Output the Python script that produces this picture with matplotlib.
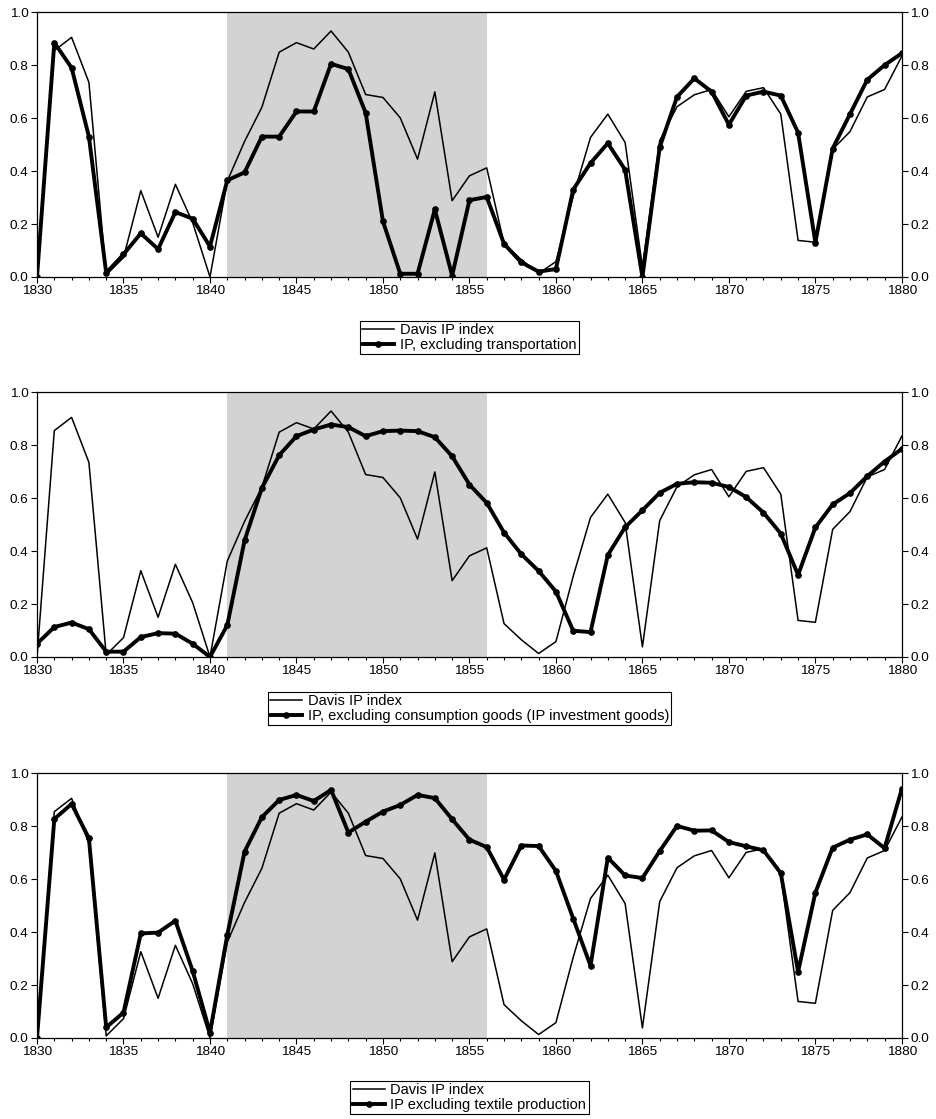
import numpy as np
import matplotlib
matplotlib.use("Agg")
import matplotlib.pyplot as plt
from matplotlib.ticker import MultipleLocator

plt.rcParams["font.family"] = ["Liberation Sans", "DejaVu Sans"]

# Data
years = np.arange(1830, 1881)

davis_ip = [
    0.000, 0.855, 0.905, 0.735, 0.008, 0.073, 0.326, 0.150, 0.350, 0.205,
    0.000, 0.362, 0.512, 0.641, 0.849, 0.885, 0.861, 0.929, 0.849, 0.689,
    0.678, 0.601, 0.445, 0.699, 0.288, 0.382, 0.412, 0.126, 0.065, 0.013,
    0.058, 0.305, 0.527, 0.615, 0.508, 0.038, 0.515, 0.643, 0.688, 0.708,
    0.605, 0.701, 0.715, 0.615, 0.138, 0.131, 0.482, 0.549, 0.680, 0.708,
    0.834,
]

ip_ex_transport = [
    0.000, 0.885, 0.790, 0.530, 0.015, 0.085, 0.165, 0.105, 0.245, 0.220,
    0.115, 0.365, 0.395, 0.530, 0.530, 0.625, 0.625, 0.805, 0.785, 0.620,
    0.210, 0.012, 0.012, 0.255, 0.005, 0.290, 0.302, 0.125, 0.055, 0.020,
    0.030, 0.330, 0.430, 0.505, 0.405, 0.000, 0.490, 0.680, 0.750, 0.700,
    0.575, 0.685, 0.700, 0.685, 0.545, 0.130, 0.485, 0.615, 0.745, 0.800,
    0.845,
]

ip_ex_consumption = [
    0.050, 0.113, 0.130, 0.105, 0.020, 0.020, 0.075, 0.090, 0.088, 0.050,
    0.000, 0.120, 0.440, 0.638, 0.762, 0.834, 0.859, 0.878, 0.868, 0.834,
    0.853, 0.855, 0.853, 0.830, 0.758, 0.651, 0.582, 0.470, 0.388, 0.325,
    0.247, 0.099, 0.094, 0.385, 0.490, 0.554, 0.620, 0.654, 0.660, 0.658,
    0.642, 0.604, 0.545, 0.466, 0.310, 0.489, 0.576, 0.619, 0.683, 0.738,
    0.786,
]

ip_ex_textile = [
    0.000, 0.827, 0.884, 0.754, 0.040, 0.096, 0.395, 0.398, 0.443, 0.253,
    0.020, 0.389, 0.704, 0.834, 0.899, 0.918, 0.895, 0.937, 0.776, 0.817,
    0.855, 0.880, 0.918, 0.906, 0.826, 0.749, 0.721, 0.598, 0.727, 0.725,
    0.631, 0.451, 0.273, 0.681, 0.614, 0.604, 0.706, 0.801, 0.783, 0.784,
    0.740, 0.724, 0.709, 0.623, 0.250, 0.549, 0.719, 0.749, 0.769, 0.717,
    0.941,
]

shade_start, shade_end = 1841, 1856

panels = [
    (ip_ex_transport, "IP, excluding transportation", 0.7525, 44),
    (ip_ex_consumption, "IP, excluding consumption goods (IP investment goods)", 0.4129, 35),
    (ip_ex_textile, "IP excluding textile production", 0.0724, 43),
]

fig = plt.figure(figsize=(9.37, 11.19), dpi=100)

for series, label, bottom, leg_gap in panels:
    ax = fig.add_axes([0.0395, bottom, 0.923, 0.2366])

    ax.axvspan(shade_start, shade_end, color="#d3d3d3", lw=0, zorder=0)
    ax.plot(years, davis_ip, color="black", lw=1.1, label="Davis IP index", zorder=2)
    ax.plot(years, series, color="black", lw=2.8, marker="o", ms=3.8,
            label=label, zorder=3)

    ax.set_xlim(1830, 1880)
    ax.set_ylim(0, 1.0)
    ax.xaxis.set_major_locator(MultipleLocator(5))
    ax.xaxis.set_minor_locator(MultipleLocator(1))
    ax.yaxis.set_major_locator(MultipleLocator(0.2))
    ax.yaxis.set_major_formatter(plt.FuncFormatter(lambda v, p: f"{v:.1f}"))

    ax.tick_params(axis="both", which="major", direction="out", length=4,
                   width=0.8, labelsize=9.7, pad=2)
    ax.tick_params(axis="x", which="minor", direction="out", length=2.5, width=0.8)
    ax.tick_params(axis="y", right=True, labelright=True)
    for sp in ax.spines.values():
        sp.set_linewidth(0.9)

    # legend placed below the axes
    gap = leg_gap / (0.2366 * 1119)
    leg = ax.legend(loc="upper center", bbox_to_anchor=(0.5, -gap),
                    fontsize=10.5, frameon=True, fancybox=False,
                    edgecolor="black", framealpha=1, handlelength=2.2,
                    handletextpad=0.4, borderpad=0.15, labelspacing=0.05,
                    borderaxespad=0)
    leg.get_frame().set_linewidth(0.8)

fig.savefig("out.png", dpi=100)
